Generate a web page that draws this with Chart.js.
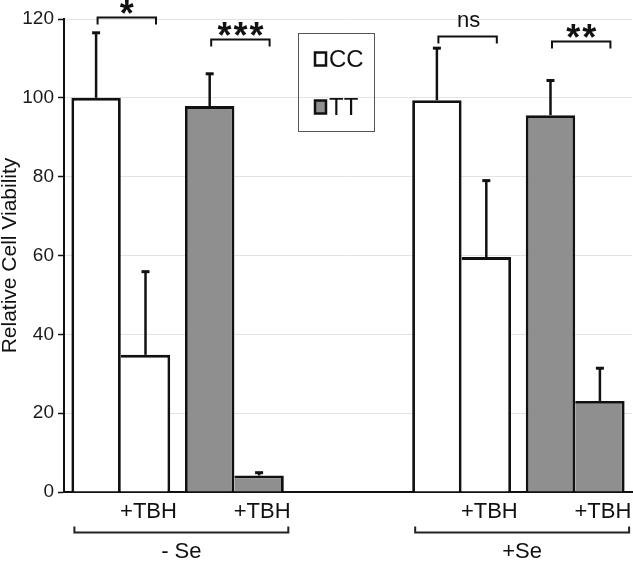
<!DOCTYPE html>
<html>
<head>
<meta charset="utf-8">
<script src="https://cdn.jsdelivr.net/npm/chart.js@4/dist/chart.umd.min.js"></script>
<style>
  html, body { margin: 0; padding: 0; background: #fff; }
  #wrap { width: 633px; height: 561px; }
</style>
</head>
<body>
<div id="wrap"><canvas id="viab" width="633" height="561"></canvas></div>
<script>
// pairs: genotype x selenium, an empty slot between the two selenium groups
const groups = ['CC -Se', 'TT -Se', '', 'CC +Se', 'TT +Se']
const baseline = [100, 97.9, null, 99.4, 95.6]
const baselineSd = [16.5, 8.2, null, 13.2, 8.8]
const tbh = [34.8, 4.2, null, 59.6, 23.1]
const tbhSd = [21.1, 0.7, null, 19.4, 8.3]
const genotypeFill = ['#ffffff', '#8f8f8f', null, '#ffffff', '#8f8f8f']

const sigLabels = ['*', '***', null, 'ns', '**']
const sigLevels = [120.6, 115.0, null, 115.6, 114.3]

const tbhLabel = '+TBH'
const seLabels = ['- Se', '+Se']
const seSpans = [[0, 1], [3, 4]]

const legendNames = ['CC', 'TT']
const legendFill = ['#ffffff', '#8f8f8f']

const font = "'Liberation Sans', Arial, sans-serif"

const annot = {
  id: 'annot',
  afterDatasetsDraw(chart) {
    const ctx = chart.ctx
    const ys = chart.scales.y
    const m0 = chart.getDatasetMeta(0).data
    const m1 = chart.getDatasetMeta(1).data
    ctx.save()
    ctx.strokeStyle = '#111'
    ctx.fillStyle = '#111'

    // error bars (upper only)
    const sets = [[baseline, baselineSd, m0], [tbh, tbhSd, m1]]
    sets.forEach(([vals, sds, els]) => {
      vals.forEach((v, i) => {
        if (v == null) return
        const x = els[i].x
        const y0 = ys.getPixelForValue(v)
        const y1 = ys.getPixelForValue(v + sds[i])
        ctx.lineWidth = 2.5
        ctx.beginPath()
        ctx.moveTo(x, y0)
        ctx.lineTo(x, y1)
        ctx.stroke()
        ctx.lineWidth = 3
        ctx.beginPath()
        ctx.moveTo(x - 4, y1)
        ctx.lineTo(x + 4, y1)
        ctx.stroke()
      })
    })

    // significance brackets
    sigLabels.forEach((lab, i) => {
      if (lab == null) return
      const l = m0[i].x + 1.5
      const r = m1[i].x + 10.5
      const y = Math.round(ys.getPixelForValue(sigLevels[i])) + 0.5
      ctx.lineWidth = 2
      ctx.beginPath()
      ctx.moveTo(l, y + 7)
      ctx.lineTo(l, y)
      ctx.lineTo(r, y)
      ctx.lineTo(r, y + 7)
      ctx.stroke()
      const cx = (l + r) / 2
      ctx.textAlign = 'center'
      ctx.textBaseline = 'alphabetic'
      if (lab === 'ns') {
        ctx.font = '22px ' + font
        ctx.fillText(lab, cx + 1, y - 10)
      } else {
        ctx.font = 'bold 36px ' + font
        const n = lab.length
        for (let k = 0; k < n; k++) {
          ctx.fillText('*', cx + (k - (n - 1) / 2) * 16, y + 8)
        }
      }
    })

    // +TBH labels under treated bars
    ctx.font = '22px ' + font
    ctx.fillStyle = '#111'
    ctx.textAlign = 'center'
    ctx.textBaseline = 'alphabetic'
    tbh.forEach((v, i) => {
      if (v == null) return
      ctx.fillText(tbhLabel, m1[i].x + 3, 518)
    })

    // selenium group brackets
    ctx.strokeStyle = '#222'
    ctx.lineWidth = 2
    seSpans.forEach(([a, b], k) => {
      const l = m0[a].x - m0[a].width / 2 + 3
      const r = m1[b].x + m1[b].width / 2 + 4.5
      const y = 532.5
      ctx.beginPath()
      ctx.moveTo(l, y - 6)
      ctx.lineTo(l, y)
      ctx.lineTo(r, y)
      ctx.lineTo(r, y - 6)
      ctx.stroke()
      ctx.font = '22px ' + font
      ctx.fillText(seLabels[k], (l + r) / 2, 558)
    })

    // legend box
    ctx.strokeStyle = '#555'
    ctx.lineWidth = 1
    ctx.strokeRect(298.5, 33.5, 76, 98)
    legendNames.forEach((name, k) => {
      const yc = 59 + k * 48
      ctx.fillStyle = legendFill[k]
      ctx.fillRect(315, yc - 6.5, 11, 13)
      ctx.strokeStyle = '#111'
      ctx.lineWidth = 2.5
      ctx.strokeRect(315, yc - 6.5, 11, 13)
      ctx.fillStyle = '#111'
      ctx.font = '24px ' + font
      ctx.textAlign = 'left'
      ctx.textBaseline = 'middle'
      ctx.fillText(name, 329, yc + 1)
    })
    ctx.restore()
  }
}

new Chart(document.getElementById('viab'), {
  type: 'bar',
  data: {
    labels: groups,
    datasets: [
      {
        label: 'control',
        data: baseline,
        backgroundColor: genotypeFill,
        borderColor: '#111',
        borderWidth: { top: 2.8, left: 2.8, right: 2.8, bottom: 0 },
        borderSkipped: false
      },
      {
        label: '+TBH',
        data: tbh,
        backgroundColor: genotypeFill,
        borderColor: '#111',
        borderWidth: { top: 2.8, left: 0, right: 2.8, bottom: 0 },
        borderSkipped: false
      }
    ]
  },
  options: {
    responsive: false,
    animation: false,
    layout: { padding: { top: 19, right: 1, left: 0, bottom: 0 } },
    categoryPercentage: 0.87,
    barPercentage: 1,
    plugins: {
      legend: { display: false },
      tooltip: { enabled: false }
    },
    scales: {
      x: {
        grid: { display: false },
        border: { display: true, color: '#111', width: 2 },
        ticks: { display: false },
        afterFit: (s) => { s.height = 69 }
      },
      y: {
        min: 0,
        max: 120,
        ticks: {
          stepSize: 20,
          color: '#1a1a1a',
          padding: 4,
          font: { family: font, size: 19 }
        },
        grid: {
          color: '#e3e3e3',
          lineWidth: 1,
          tickColor: '#111',
          tickLength: 6,
          tickWidth: 1.5
        },
        border: { display: true, color: '#111', width: 2 },
        title: {
          display: true,
          text: 'Relative Cell Viability',
          color: '#111',
          font: { family: font, size: 21, lineHeight: 1 },
          padding: { top: 0, bottom: 0 }
        },
        afterFit: (s) => { s.width = 64 }
      }
    }
  },
  plugins: [annot]
})
</script>
</body>
</html>
